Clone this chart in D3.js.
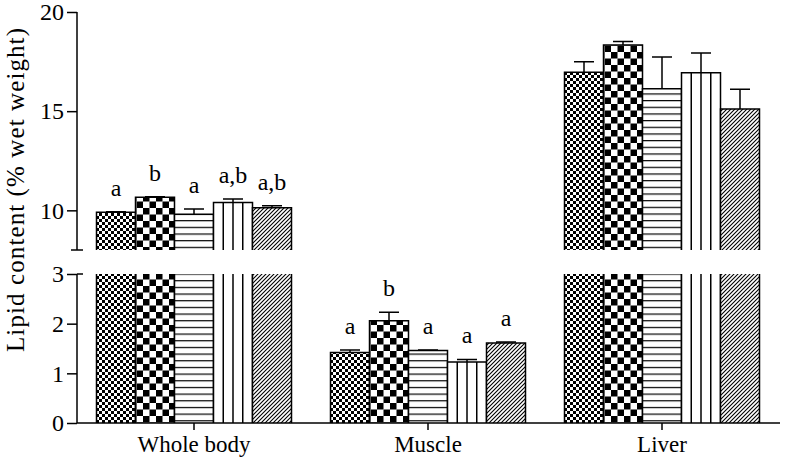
<!DOCTYPE html>
<html>
<head>
<meta charset="utf-8">
<script src="https://d3js.org/d3.v7.min.js"></script>
<style>
body { margin: 0; background: #fff; }
text { font-family: "Liberation Serif", "Times New Roman", serif; fill: #000; }
.axis line, .axis path { stroke: #000; stroke-width: 1.5; fill: none; }
.edge { stroke: #000; stroke-width: 1.5; fill: none; }
.err { stroke: #000; stroke-width: 1.5; fill: none; }
</style>
</head>
<body>
<script>

var groups = ["Whole body", "Muscle", "Liver"];
var treatments = ["T1", "T2", "T3", "T4", "T5"];

// means (% wet weight), one row per group
var wholeBody = [9.9, 10.66, 9.8, 10.4, 10.13];
var muscle    = [1.42, 2.06, 1.46, 1.23, 1.61];
var liver     = [16.96, 18.34, 16.13, 16.94, 15.11];

// SEM (upper half only is drawn)
var wholeBodyErr = [0.03, 0.03, 0.27, 0.17, 0.1];
var muscleErr    = [0.05, 0.17, 0.01, 0.05, 0.02];
var liverErr     = [0.53, 0.17, 1.6, 0.99, 1.0];

var wholeBodyLetters = ["a", "b", "a", "a,b", "a,b"];
var muscleLetters    = ["a", "b", "a", "a", "a"];
var liverLetters     = ["", "", "", "", ""];

var upperTicks = [10, 15, 20];
var lowerTicks = [0, 1, 2, 3];

var width = 786, height = 460;

var rows = [
  {group: groups[0], vals: wholeBody, errs: wholeBodyErr, letters: wholeBodyLetters},
  {group: groups[1], vals: muscle, errs: muscleErr, letters: muscleLetters},
  {group: groups[2], vals: liver, errs: liverErr, letters: liverLetters}
];

var svg = d3.select('body').append('svg')
  .attr('width', width)
  .attr('height', height);

var defs = svg.append('defs');

// fine checker
var p1 = defs.append('pattern').attr('id', 'p0')
  .attr('patternUnits', 'userSpaceOnUse').attr('width', 6).attr('height', 6);
p1.append('rect').attr('width', 6).attr('height', 6).attr('fill', '#fff');
p1.append('rect').attr('width', 3).attr('height', 3).attr('fill', '#000');
p1.append('rect').attr('x', 3).attr('y', 3).attr('width', 3).attr('height', 3).attr('fill', '#000');

// coarse checker
var p2 = defs.append('pattern').attr('id', 'p1')
  .attr('patternUnits', 'userSpaceOnUse').attr('width', 13).attr('height', 13);
p2.append('rect').attr('width', 13).attr('height', 13).attr('fill', '#fff');
p2.append('rect').attr('width', 6.5).attr('height', 6.5).attr('fill', '#000');
p2.append('rect').attr('x', 6.5).attr('y', 6.5).attr('width', 6.5).attr('height', 6.5).attr('fill', '#000');

// horizontal lines
var p3 = defs.append('pattern').attr('id', 'p2')
  .attr('patternUnits', 'userSpaceOnUse').attr('width', 10).attr('height', 6.67);
p3.append('rect').attr('width', 10).attr('height', 6.67).attr('fill', '#fff');
p3.append('line').attr('x1', 0).attr('x2', 10).attr('y1', 0.6).attr('y2', 0.6)
  .attr('stroke', '#000').attr('stroke-width', 1.2);

// diagonal hatch
var p5 = defs.append('pattern').attr('id', 'p4')
  .attr('patternUnits', 'userSpaceOnUse').attr('width', 4).attr('height', 4);
p5.append('rect').attr('width', 4).attr('height', 4).attr('fill', '#fff');
p5.append('path').attr('d', 'M0,4L4,0M-1,1L1,-1M3,5L5,3')
  .attr('stroke', '#000').attr('stroke-width', 1.1);

var fills = ['url(#p0)', 'url(#p1)', 'url(#p2)', '#fff', 'url(#p4)'];

var axisX = 77;

var x = d3.scaleBand().domain(groups).range([axisX, 779]);
var xInner = d3.scaleBand().domain(treatments).range([-97.5, 97.5]);

var yUpper = d3.scaleLinear().domain([8, 20]).range([250, 12]);
var yLower = d3.scaleLinear().domain([0, 3]).range([423, 274]);

// bars
rows.forEach(function(r) {
  var g = svg.append('g');
  r.vals.forEach(function(v, i) {
    var x0 = x(r.group) + x.bandwidth() / 2 + xInner(treatments[i]);
    var w = xInner.bandwidth();
    var x1 = x0 + w;
    var broken = v > 8;
    var segs = [];
    // [top, bottom, draw top edge]
    segs.push([yLower(Math.min(v, 3)), yLower(0), !broken]);
    if (broken) segs.push([yUpper(v), yUpper(8), true]);
    segs.forEach(function(s) {
      g.append('rect')
        .attr('x', x0).attr('y', s[0])
        .attr('width', w).attr('height', s[1] - s[0])
        .attr('fill', fills[i]);
      if (i === 3) {
        [1, 2, 3].forEach(function(q) {
          g.append('line').attr('class', 'edge')
            .attr('x1', x0 + w * q / 4).attr('x2', x0 + w * q / 4)
            .attr('y1', s[0]).attr('y2', s[1]);
        });
      }
      var d = s[2]
        ? 'M' + x0 + ',' + s[1] + 'V' + s[0] + 'H' + x1 + 'V' + s[1]
        : 'M' + x0 + ',' + s[0] + 'V' + s[1] + 'M' + x1 + ',' + s[0] + 'V' + s[1];
      g.append('path').attr('class', 'edge').attr('d', d);
    });
    var y = broken ? yUpper : yLower;
    var cx = x0 + w / 2;
    var top = y(v + r.errs[i]);
    g.append('path').attr('class', 'err')
      .attr('d', 'M' + cx + ',' + y(v) + 'V' + top + 'M' + (cx - 10) + ',' + top + 'H' + (cx + 10));
    if (r.letters[i]) {
      g.append('text').attr('x', cx).attr('y', top - 16)
        .attr('text-anchor', 'middle').attr('font-size', 24)
        .text(r.letters[i]);
    }
  });
});

// y axes
var upperAxis = svg.append('g').attr('class', 'axis')
  .attr('transform', 'translate(' + axisX + ',0)')
  .call(d3.axisLeft(yUpper).tickValues(upperTicks).tickFormat(d3.format('d'))
    .tickSize(10).tickSizeOuter(0).tickPadding(3));
upperAxis.select('.domain').remove();
upperAxis.append('line').attr('y1', yUpper(20)).attr('y2', yUpper(8));
upperAxis.append('line').attr('x1', -6).attr('x2', 6).attr('y1', yUpper(8)).attr('y2', yUpper(8));

var lowerAxis = svg.append('g').attr('class', 'axis')
  .attr('transform', 'translate(' + axisX + ',0)')
  .call(d3.axisLeft(yLower).tickValues(lowerTicks).tickFormat(d3.format('d'))
    .tickSize(10).tickSizeOuter(0).tickPadding(3));
lowerAxis.select('.domain').remove();
lowerAxis.append('line').attr('y1', yLower(3)).attr('y2', yLower(0));
lowerAxis.append('line').attr('x1', 0).attr('x2', 6).attr('y1', yLower(3)).attr('y2', yLower(3));

svg.selectAll('.axis text').attr('font-size', 24).style('font-family', '"Liberation Serif", serif');

// x axis
var xAxis = svg.append('g').attr('class', 'axis')
  .attr('transform', 'translate(0,' + yLower(0) + ')')
  .call(d3.axisBottom(x).tickSize(7).tickSizeOuter(0).tickPadding(6));
xAxis.select('.domain').remove();
xAxis.append('line').attr('x1', axisX).attr('x2', 780);
xAxis.selectAll('text').attr('font-size', 23).style('font-family', '"Liberation Serif", serif');

// y label
svg.append('text')
  .attr('transform', 'translate(24,190) rotate(-90)')
  .attr('text-anchor', 'middle')
  .attr('font-size', 25)
  .attr('textLength', 324)
  .attr('lengthAdjust', 'spacing')
  .text('Lipid content (% wet weight)');

</script>
</body>
</html>
